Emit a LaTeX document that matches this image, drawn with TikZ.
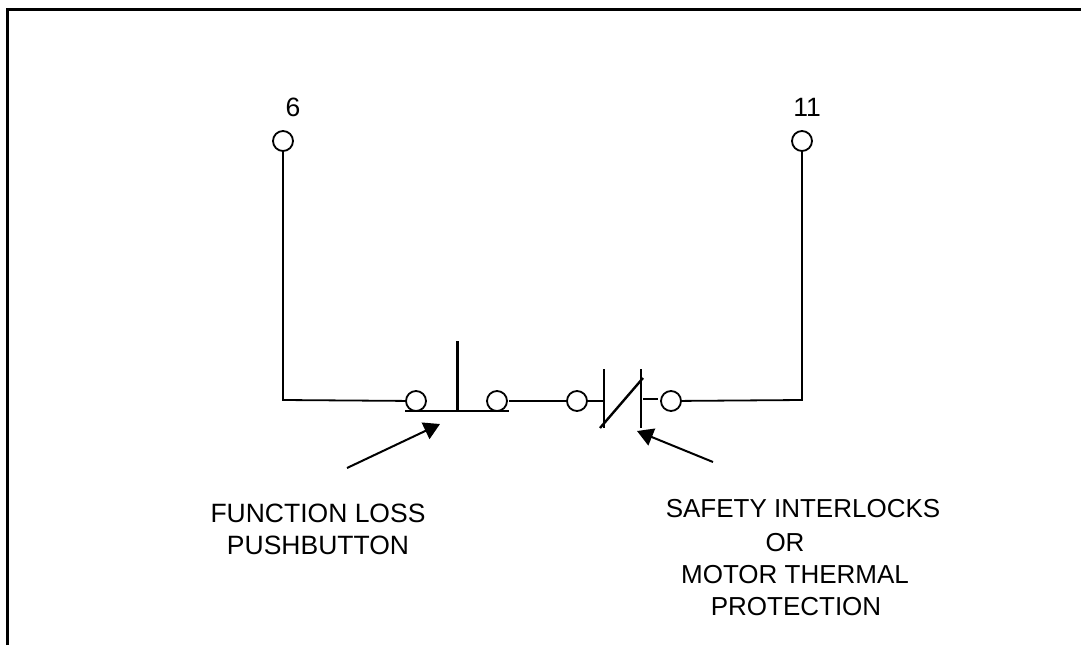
\documentclass[tikz,border=0pt]{standalone}
\usepackage{fontspec}
\setmainfont{Liberation Sans}
\usetikzlibrary{arrows.meta}
\begin{document}
\begin{tikzpicture}[x=1pt,y=-1pt,
  wire/.style={line width=1.8pt,black},
  heavy/.style={line width=2.4pt,black},
  term/.style={circle,draw=black,line width=1.8pt,fill=white,minimum size=20pt,inner sep=0pt},
  lbl/.style={font=\fontsize{26.5}{32}\selectfont,align=center,inner sep=0pt},
  lblb/.style={font=\fontsize{26}{32}\selectfont,inner sep=0pt},
  pointer/.style={line width=2pt,-{Triangle[length=16pt,width=18pt]}},
  frame/.style={line width=3pt}]
\useasboundingbox (0,0) rectangle (1081,645);
\coordinate (fa) at (7,645); \coordinate (fb) at (7,9); \coordinate (fc) at (1081,9);
\draw[frame] (fa) -- (fb) -- (fc);
\node[term] (t6) at (283,141) {};
\node[term] (t11) at (802,141) {};
\node[term] (a) at (416,401) {};
\node[term] (b) at (497,401) {};
\node[term] (c) at (577,401) {};
\node[term] (d) at (671,401) {};
\node[lbl] (n6) at (293,107) {6};
\node[lbl] (n11) at (807,107) {11};
\coordinate (bl) at (283,400); \coordinate (br) at (802,400);
\draw[wire] (t6) -- (bl) -- (a);
\draw[wire] (t11) -- (br) -- (d);
\coordinate (barL) at (405,411); \coordinate (barR) at (509,411);
\coordinate (pbT) at (457.5,341); \coordinate (pbB) at (457.5,411);
\draw[heavy] (barL) -- (barR);
\draw[heavy] (pbT) -- (pbB);
\coordinate (bw) at (509,401);
\draw[wire] (bw) -- (c);
\coordinate (k1t) at (604,369); \coordinate (k1b) at (604,428);
\coordinate (k2t) at (641,369); \coordinate (k2b) at (641,428);
\coordinate (k1m) at (604,401); \coordinate (k2m) at (658,399); \coordinate (k2n) at (643,399);
\coordinate (dg1) at (600,428); \coordinate (dg2) at (643,378);
\draw[heavy] (k1t) -- (k1b);
\draw[heavy] (k2t) -- (k2b);
\draw[heavy] (dg1) -- (dg2);
\draw[wire] (c) -- (k1m);
\draw[wire] (k2n) -- (k2m);
\coordinate (p1s) at (347,468); \coordinate (p1e) at (440,424);
\coordinate (p2s) at (713,462); \coordinate (p2e) at (637,431);
\draw[pointer] (p1s) -- (p1e);
\draw[pointer] (p2s) -- (p2e);
\node[lbl] (l1) at (318,529) {FUNCTION LOSS\\PUSHBUTTON};
\node[lblb] (s1) at (803,509) {SAFETY INTERLOCKS};
\node[lblb] (s2) at (785,543) {OR};
\node[lblb] (s3) at (795,575) {MOTOR THERMAL};
\node[lblb] (s4) at (796,607) {PROTECTION};
\end{tikzpicture}
\end{document}
